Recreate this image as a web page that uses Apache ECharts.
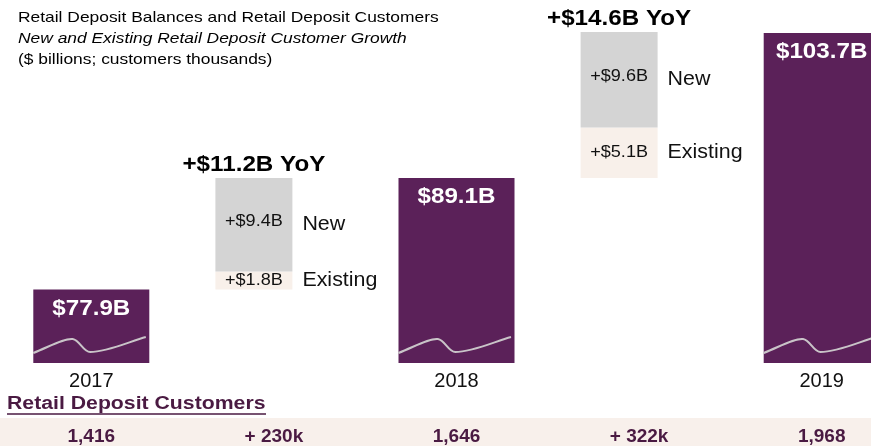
<!DOCTYPE html>
<html><head><meta charset="utf-8">
<script src="https://cdn.jsdelivr.net/npm/echarts@6/dist/echarts.min.js"></script>
<style>html,body{margin:0;padding:0;background:#fff;overflow:hidden;width:871px;height:446px}#c{width:913px;height:446px}</style>
</head><body><div id="c"></div>
<script>
const categories = ['2017', '', '2018', '', '2019'];
const balances = [77.9, 89.1, 103.7];
const existingGrowth = [1.8, 5.1];
const newGrowth = [9.4, 9.6];
const yoyGrowth = [11.2, 14.6];
const customers = ['1,416', '+ 230k', '1,646', '+ 322k', '1,968'];

const PURPLE = '#5b2159';
const FONT = 'Liberation Sans, Arial, sans-serif';
const Y_MIN = 70.5, Y_MAX = 104;
const INC_SHIFT = -20;

const balData = balances.map((v, i) => [i * 2, v]);
const incData = existingGrowth.map((e, i) => [i * 2 + 1, balances[i], e, newGrowth[i], yoyGrowth[i]]);

function txt(text, x, y, align, font, fill, sx) {
  return { type: 'text', x: x, y: y, scaleX: sx || 1,
    style: { text: text, x: 0, y: 0, align: align, verticalAlign: 'middle', fill: fill, font: font } };
}

function renderBalance(params, api) {
  const c = api.value(0), v = api.value(1);
  const top = api.coord([c, v]);
  const bot = api.coord([c, Y_MIN]);
  const w = 116;
  const L = top[0] - w / 2, T = top[1], B = bot[1];
  const p = (fx, dy) => (L + fx * w).toFixed(1) + ' ' + (B - dy).toFixed(1);
  const path = 'M ' + p(0, 10) +
    ' C ' + p(0.15, 17) + ' ' + p(0.27, 25) + ' ' + p(0.34, 24) +
    ' C ' + p(0.40, 23) + ' ' + p(0.43, 11) + ' ' + p(0.49, 11) +
    ' C ' + p(0.64, 11) + ' ' + p(0.84, 22) + ' ' + p(0.97, 26);
  return {
    type: 'group',
    children: [
      { type: 'rect', shape: { x: L, y: T, width: w, height: B - T }, style: { fill: PURPLE } },
      { type: 'path', shape: { pathData: path }, style: { fill: null, stroke: '#c9c4c8', lineWidth: 2 } },
      txt('$' + v.toFixed(1) + 'B', top[0], T + 19, 'center', 'bold 22px ' + FONT, '#fff', 1.1)
    ]
  };
}

function renderInc(params, api) {
  const c = api.value(0), base = api.value(1), ex = api.value(2), nw = api.value(3), yoy = api.value(4);
  const w = 77;
  const pB = api.coord([c, base]);
  const pE = api.coord([c, base + ex]);
  const pN = api.coord([c, base + ex + nw]);
  const cx = pB[0] + INC_SHIFT;
  const L = cx - w / 2;
  return {
    type: 'group',
    children: [
      { type: 'rect', shape: { x: L, y: pE[1], width: w, height: pB[1] - pE[1] }, style: { fill: '#f8f0ea' } },
      { type: 'rect', shape: { x: L, y: pN[1], width: w, height: pE[1] - pN[1] }, style: { fill: '#d4d4d4' } },
      txt('+$' + ex.toFixed(1) + 'B', cx, (pB[1] + pE[1]) / 2, 'center', '16px ' + FONT, '#111', 1.13),
      txt('+$' + nw.toFixed(1) + 'B', cx, (pE[1] + pN[1]) / 2 - 3, 'center', '16px ' + FONT, '#111', 1.13),
      txt('Existing', L + w + 10, (pB[1] + pE[1]) / 2, 'left', '20px ' + FONT, '#111', 1.07),
      txt('New', L + w + 10, (pE[1] + pN[1]) / 2, 'left', '20px ' + FONT, '#111', 1.07),
      txt('+$' + yoy.toFixed(1) + 'B YoY', cx, pN[1] - 13, 'center', 'bold 22px ' + FONT, '#000', 1.1)
    ]
  };
}

const chart = echarts.init(document.getElementById('c'), null, { renderer: 'canvas' });
chart.setOption({
  animation: false,
  backgroundColor: '#fff',
  grid: { left: 0, right: 0, top: 30, bottom: 83 },
  xAxis: [
    { type: 'category', data: categories, axisLine: { show: false }, axisTick: { show: false },
      axisLabel: { interval: 0, margin: 8, color: '#111', fontSize: 20, fontFamily: FONT } },
    { type: 'category', data: customers, position: 'bottom', offset: 56, axisLine: { show: false }, axisTick: { show: false },
      axisLabel: { interval: 0, margin: 8, color: '#4a1a42', fontSize: 19, fontWeight: 'bold', fontFamily: FONT } }
  ],
  yAxis: { type: 'value', min: Y_MIN, max: Y_MAX, show: false, splitLine: { show: false } },
  graphic: [
    { type: 'rect', z: -10, shape: { x: 0, y: 418, width: 913, height: 28 }, style: { fill: '#f8f0eb' } },
    { type: 'text', left: 18, top: 10, scaleX: 1.16, style: { text: 'Retail Deposit Balances and Retail Deposit Customers', fill: '#000', font: '15px ' + FONT } },
    { type: 'text', left: 18, top: 31, scaleX: 1.16, style: { text: 'New and Existing Retail Deposit Customer Growth', fill: '#000', font: 'italic 15px ' + FONT } },
    { type: 'text', left: 18, top: 52, scaleX: 1.16, style: { text: '($ billions; customers thousands)', fill: '#000', font: '15px ' + FONT } },
    { type: 'text', left: 7, top: 395, scaleX: 1.18, style: { text: 'Retail Deposit Customers', fill: '#4a1a42', font: 'bold 18px ' + FONT } },
    { type: 'line', shape: { x1: 7, y1: 414, x2: 266, y2: 414 }, style: { stroke: '#4a1a42', lineWidth: 1.5 } }
  ],
  series: [
    { type: 'custom', xAxisIndex: 0, renderItem: renderBalance, data: balData, clip: false },
    { type: 'custom', xAxisIndex: 0, renderItem: renderInc, data: incData, clip: false }
  ]
});
</script></body></html>
